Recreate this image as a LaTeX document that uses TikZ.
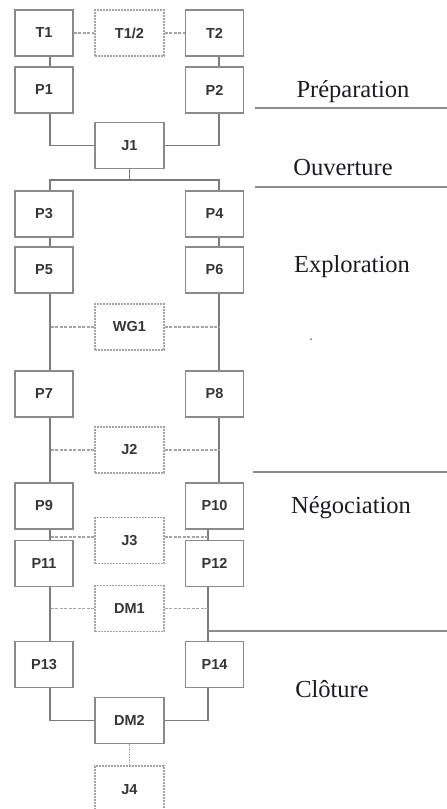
\documentclass[tikz,border=0pt]{standalone}
\usepackage{fontspec}
\setmainfont{Liberation Serif}
\setsansfont{Liberation Sans}
\definecolor{boxgray}{HTML}{8A8A8A}
\definecolor{linegray}{HTML}{7C7C7C}
\definecolor{dashgray}{HTML}{A4A4A4}
\definecolor{textgray}{HTML}{363636}
\definecolor{rulegray}{HTML}{8C8C8C}
\definecolor{phaseink}{HTML}{1E1A22}
\definecolor{speck}{HTML}{8E4E86}
\tikzset{
  box/.style={draw=boxgray, line width=1.2pt, fill=white, minimum width=58pt,
    minimum height=46pt, inner sep=0pt, text=textgray,
    font=\sffamily\bfseries\fontsize{14.5}{15}\selectfont},
  midbox/.style={box, minimum width=69pt},
  dbox/.style={midbox, draw=dashgray, dash pattern=on 2pt off 1pt},
  link/.style={draw=linegray, line width=1.3pt},
  dlink/.style={draw=dashgray, line width=1.1pt, dash pattern=on 3pt off 1.5pt},
  rulestyle/.style={draw=rulegray, line width=1.5pt},
  phase/.style={anchor=base, text=phaseink, inner sep=0pt,
    font=\fontsize{24.5}{25}\selectfont}
}
\begin{document}
\begin{tikzpicture}[x=1pt, y=-1pt]
\useasboundingbox (0,0) rectangle (447,809);
% trunk abscissae
\coordinate (Lx) at (50,0);
\coordinate (Rx) at (219,0);
\coordinate (Ry) at (208,0);

% boxes
\node[box]  (T1)  at (44,33)    {T1};
\node[dbox] (T12) at (129.5,33) {T1/2};
\node[box]  (T2)  at (214.5,33) {T2};
\node[box]  (P1)  at (44,90)    {P1};
\node[box]  (P2)  at (214.5,90) {P2};
\node[midbox] (J1) at (129.5,145.5) {J1};
\node[box]  (P3)  at (44,214)    {P3};
\node[box]  (P4)  at (214.5,214) {P4};
\node[box]  (P5)  at (44,270)    {P5};
\node[box]  (P6)  at (214.5,270) {P6};
\node[dbox] (WG1) at (129.5,327) {WG1};
\node[box]  (P7)  at (44,394)    {P7};
\node[box]  (P8)  at (214.5,394) {P8};
\node[dbox] (J2)  at (129.5,450) {J2};
\node[box]  (P9)  at (44,506)    {P9};
\node[box]  (P10) at (214.5,506) {P10};
\node[dbox] (J3)  at (129.5,540.5) {J3};
\node[box]  (P11) at (44,563.5)    {P11};
\node[box]  (P12) at (214.5,563.5) {P12};
\node[dbox] (DM1) at (129.5,608.5) {DM1};
\node[box]  (P13) at (44,664.5)    {P13};
\node[box]  (P14) at (214.5,664.5) {P14};
\node[midbox] (DM2) at (129.5,720.5) {DM2};
\node[dbox, minimum height=48pt] (J4) at (129.5,790) {J4};

% connectors
\draw[dlink] (T1) -- (T12);
\draw[dlink] (T12) -- (T2);
\draw[link] (T1.south -| Lx) -- (P1.north -| Lx);
\draw[link] (T2.south -| Rx) -- (P2.north -| Rx);
\draw[link] (P1.south -| Lx) |- (J1.west);
\draw[link] (P2.south -| Rx) |- (J1.east);
\coordinate (fork) at (129.5,180);
\draw[link] (J1.south) -- (fork);
\draw[link] (P3.north -| Lx) |- (fork) -| (P4.north -| Rx);
\draw[link] (P3.south -| Lx) -- (P5.north -| Lx);
\draw[link] (P4.south -| Rx) -- (P6.north -| Rx);
\draw[link] (P5.south -| Lx) -- (P7.north -| Lx);
\draw[link] (P6.south -| Rx) -- (P8.north -| Rx);
\draw[dlink] (WG1.west) -- (WG1.west -| Lx);
\draw[dlink] (WG1.east) -- (WG1.east -| Rx);
\draw[link] (P7.south -| Lx) -- (P9.north -| Lx);
\draw[link] (P8.south -| Rx) -- (P10.north -| Rx);
\draw[dlink] (J2.west) -- (J2.west -| Lx);
\draw[dlink] (J2.east) -- (J2.east -| Rx);
\draw[link] (P9.south -| Lx) -- (P11.north -| Lx);
\draw[link] (P10.south -| Ry) -- (P12.north -| Ry);
\draw[dlink] ([yshift=3.5pt]J3.west) -- ([yshift=3.5pt]J3.west -| Lx);
\draw[dlink] ([yshift=3.5pt]J3.east) -- ([yshift=3.5pt]J3.east -| Ry);
\draw[link] (P11.south -| Lx) -- (P13.north -| Lx);
\draw[link] (P12.south -| Ry) -- (P14.north -| Ry);
\draw[dlink] (DM1.west) -- (DM1.west -| Lx);
\draw[dlink] (DM1.east) -- (DM1.east -| Ry);
\draw[link] (P13.south -| Lx) |- (DM2.west);
\draw[link] (P14.south -| Ry) |- (DM2.east);
\draw[dlink, dash pattern=on 1.5pt off 1pt] (DM2.south) -- (J4.north);

% phase separators
\coordinate (a1) at (255,108); \coordinate (b1) at (447,108);
\coordinate (a2) at (255,187); \coordinate (b2) at (447,187);
\coordinate (a3) at (253,472); \coordinate (b3) at (447,472);
\coordinate (a4) at (208,631); \coordinate (b4) at (447,631);
\draw[rulestyle] (a1) -- (b1);
\draw[rulestyle] (a2) -- (b2);
\draw[rulestyle] (a3) -- (b3);
\draw[rulestyle] (a4) -- (b4);

% phase names
\node[phase] (prep) at (353,97)  {Préparation};
\node[phase] (ouv)  at (343,175) {Ouverture};
\node[phase] (expl) at (352,272) {Exploration};
\node[phase] (nego) at (351,513) {Négociation};
\node[phase] (clot) at (332,697) {Clôture};

\fill[speck] (311,339) circle (1pt);
\end{tikzpicture}
\end{document}
